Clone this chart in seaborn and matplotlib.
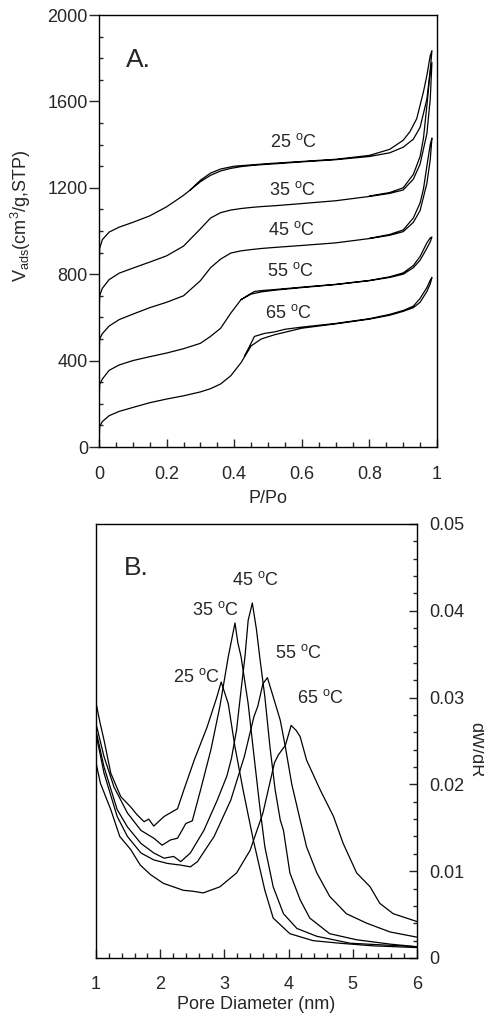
import numpy as np
import pandas as pd
import matplotlib
matplotlib.use("Agg")
import matplotlib.pyplot as plt
from matplotlib.ticker import MultipleLocator
import seaborn as sns

# ---------------- Panel A: isotherms ----------------
P_ADS = [0.0, 0.002, 0.01, 0.03, 0.06, 0.1, 0.15, 0.2, 0.25, 0.3, 0.33, 0.36, 0.39,
         0.42, 0.45, 0.48, 0.52, 0.6, 0.7, 0.8, 0.86, 0.9, 0.93, 0.95, 0.97, 0.98, 0.985]

ads_25 = [800, 920, 960, 995, 1018, 1040, 1070, 1112, 1165, 1228, 1258, 1278, 1290,
          1298, 1303, 1307, 1311, 1320, 1330, 1345, 1362, 1388, 1425, 1480, 1610, 1745, 1835]
des_p_25 = [0.985, 0.98, 0.97, 0.96, 0.94, 0.92, 0.9, 0.86, 0.8, 0.7, 0.5, 0.4, 0.36, 0.33, 0.3, 0.27]
des_25 = [1835, 1812, 1720, 1645, 1520, 1460, 1420, 1378, 1350, 1332, 1312, 1300, 1287, 1268, 1235, 1190]

ads_35 = [600, 700, 735, 775, 805, 828, 856, 885, 930, 1010, 1060, 1085, 1097,
          1104, 1109, 1113, 1117, 1127, 1140, 1160, 1174, 1190, 1240, 1310, 1450, 1610, 1780]
des_p_35 = [0.985, 0.98, 0.97, 0.96, 0.95, 0.93, 0.9, 0.86, 0.8]
des_35 = [1780, 1740, 1580, 1430, 1345, 1262, 1200, 1178, 1162]

ads_45 = [400, 500, 525, 560, 590, 615, 645, 670, 700, 770, 830, 870, 898,
          908, 914, 919, 924, 933, 945, 965, 980, 997, 1040, 1095, 1220, 1330, 1430]
des_p_45 = [0.985, 0.98, 0.97, 0.96, 0.95, 0.93, 0.9, 0.86, 0.8]
des_45 = [1430, 1400, 1300, 1195, 1130, 1060, 1005, 984, 966]

ads_55 = [200, 290, 315, 355, 380, 400, 418, 435, 455, 480, 512, 550, 620,
          682, 708, 718, 726, 738, 752, 770, 785, 800, 830, 865, 920, 950, 972]
des_p_55 = [0.985, 0.98, 0.97, 0.95, 0.93, 0.9, 0.86, 0.8, 0.7, 0.6, 0.52, 0.48, 0.46, 0.44, 0.42]
des_55 = [972, 968, 945, 882, 840, 806, 788, 771, 753, 740, 729, 724, 720, 702, 682]

ads_65 = [0, 95, 118, 145, 165, 183, 205, 222, 237, 255, 270, 292, 330,
          390, 468, 500, 520, 550, 570, 592, 610, 628, 645, 670, 720, 755, 785]
des_p_65 = [0.985, 0.98, 0.97, 0.95, 0.93, 0.9, 0.86, 0.8, 0.7, 0.6, 0.55, 0.52, 0.49, 0.46, 0.445, 0.43]
des_65 = [785, 772, 738, 688, 652, 632, 614, 594, 572, 555, 545, 533, 526, 512, 465, 420]

labels_A = ["25 $^{o}$C", "35 $^{o}$C", "45 $^{o}$C", "55 $^{o}$C", "65 $^{o}$C"]
label_pos_A = [(0.506, 1412), (0.503, 1190), (0.50, 1005), (0.497, 816), (0.491, 622)]

# ---------------- Panel B: pore size distributions ----------------
d_25 = [1.0, 1.06, 1.125, 1.23, 1.385, 1.54, 1.64, 1.75, 1.82, 1.90, 2.06, 2.27, 2.37, 2.53,
        2.73, 2.88, 2.95, 3.06, 3.165, 3.29, 3.45, 3.63, 3.76, 4.02, 4.38, 4.8, 5.32, 6.0]
w_25 = [0.0294, 0.0272, 0.0251, 0.0213, 0.0186, 0.0174, 0.0165, 0.0157, 0.0160, 0.0152, 0.0163,
        0.0172, 0.0194, 0.0228, 0.0266, 0.0300, 0.0318, 0.0293, 0.0243, 0.0194, 0.0136, 0.0078,
        0.0046, 0.0028, 0.0020, 0.0017, 0.0014, 0.0012]

d_35 = [1.0, 1.125, 1.28, 1.49, 1.70, 1.90, 2.03, 2.16, 2.27, 2.40, 2.50, 2.63, 2.79, 2.93,
        3.06, 3.165, 3.21, 3.26, 3.37, 3.45, 3.55, 3.63, 3.76, 3.92, 4.13, 4.44, 4.96, 6.0]
w_35 = [0.0270, 0.0232, 0.0197, 0.0167, 0.0147, 0.0138, 0.0130, 0.0136, 0.0138, 0.0155, 0.0158,
        0.0194, 0.0240, 0.0290, 0.0347, 0.0386, 0.0363, 0.0347, 0.0293, 0.0240, 0.0175, 0.0128,
        0.0082, 0.0051, 0.0034, 0.0025, 0.0017, 0.0013]

d_45 = [1.0, 1.125, 1.33, 1.49, 1.70, 1.90, 2.06, 2.21, 2.32, 2.47, 2.68, 2.89, 3.04, 3.11,
        3.19, 3.26, 3.32, 3.37, 3.435, 3.50, 3.55, 3.63, 3.71, 3.79, 3.87, 3.92, 4.02, 4.18,
        4.33, 4.64, 5.06, 5.58, 6.0]
w_45 = [0.0262, 0.0220, 0.0171, 0.0151, 0.0132, 0.0121, 0.0115, 0.0117, 0.0111, 0.0121, 0.0147,
        0.0182, 0.0210, 0.0230, 0.0263, 0.0309, 0.0347, 0.0389, 0.0409, 0.0378, 0.0347, 0.0301,
        0.0243, 0.0194, 0.0159, 0.0147, 0.0098, 0.0067, 0.0046, 0.0028, 0.0021, 0.0016, 0.0013]

d_55 = [1.0, 1.125, 1.33, 1.49, 1.70, 1.90, 2.11, 2.32, 2.47, 2.58, 2.84, 3.10, 3.31, 3.46,
        3.52, 3.60, 3.67, 3.76, 3.87, 3.95, 4.05, 4.18, 4.28, 4.44, 4.64, 4.90, 5.22, 5.58, 6.0]
w_55 = [0.0258, 0.0213, 0.0163, 0.0140, 0.0121, 0.0113, 0.0109, 0.0107, 0.0105, 0.0111, 0.0140,
        0.0182, 0.0232, 0.0278, 0.0290, 0.0316, 0.0323, 0.0301, 0.0274, 0.0243, 0.0200, 0.0159,
        0.0128, 0.0098, 0.0071, 0.0051, 0.0040, 0.0030, 0.0024]

d_65 = [1.0, 1.07, 1.23, 1.37, 1.54, 1.69, 1.85, 2.05, 2.36, 2.50, 2.67, 2.93, 3.19, 3.40,
        3.60, 3.78, 3.84, 3.95, 4.04, 4.12, 4.18, 4.28, 4.49, 4.70, 4.85, 5.06, 5.27, 5.42,
        5.63, 6.0]
w_65 = [0.0225, 0.0201, 0.0171, 0.0140, 0.0125, 0.0107, 0.0096, 0.0086, 0.0078, 0.0077, 0.0075,
        0.0082, 0.0098, 0.0124, 0.0167, 0.0225, 0.0234, 0.0245, 0.0268, 0.0262, 0.0255, 0.0228,
        0.0194, 0.0163, 0.0132, 0.0098, 0.0082, 0.0063, 0.0051, 0.0042]

labels_B = ["25 $^{o}$C", "35 $^{o}$C", "45 $^{o}$C", "55 $^{o}$C", "65 $^{o}$C"]
label_pos_B = [(2.195, 0.0324), (2.495, 0.0401), (3.12, 0.0435), (3.79, 0.0351), (4.126, 0.0300)]

# ---------------- Styling ----------------
sns.set_style("ticks")
plt.rcParams["font.family"] = ["Liberation Sans", "DejaVu Sans"]
plt.rcParams["mathtext.default"] = "regular"
plt.rcParams["axes.linewidth"] = 1.0

FS = 13
LW = 0.9

fig = plt.figure(figsize=(4.84, 10.17), dpi=100)
axA = fig.add_axes([99 / 484, 1 - 447 / 1017, (437 - 99) / 484, (447 - 15) / 1017])
axB = fig.add_axes([96 / 484, 1 - 958 / 1017, (417 - 96) / 484, (958 - 524) / 1017])

# Panel A loops: adsorption then desorption
iso = [(ads_25, des_p_25, des_25), (ads_35, des_p_35, des_35), (ads_45, des_p_45, des_45),
       (ads_55, des_p_55, des_55), (ads_65, des_p_65, des_65)]
for ads, dp, dv in iso:
    df = pd.DataFrame({"P": list(P_ADS) + list(dp), "V": list(ads) + list(dv)})
    sns.lineplot(data=df, x="P", y="V", sort=False, estimator=None, color="black",
                 linewidth=LW, ax=axA)

for (x, y), t in zip(label_pos_A, labels_A):
    axA.text(x, y, t, fontsize=FS, ha="left", va="center")
axA.text(0.08, 1790, "A.", fontsize=19, ha="left", va="center")

axA.set_xlim(0, 1)
axA.set_ylim(0, 2000)
axA.xaxis.set_major_locator(MultipleLocator(0.2))
axA.xaxis.set_minor_locator(MultipleLocator(0.05))
axA.yaxis.set_major_locator(MultipleLocator(400))
axA.yaxis.set_minor_locator(MultipleLocator(100))
axA.set_xticks([0, 0.2, 0.4, 0.6, 0.8, 1.0])
axA.set_xticklabels(["0", "0.2", "0.4", "0.6", "0.8", "1"])
axA.tick_params(axis="x", which="major", direction="in", length=6, width=1, pad=14, labelsize=FS)
axA.tick_params(axis="x", which="minor", direction="in", length=3.5, width=1)
axA.tick_params(axis="y", which="major", direction="out", length=7, width=1, pad=1, labelsize=FS)
axA.tick_params(axis="y", which="minor", direction="in", length=3, width=1)
axA.set_xlabel("P/Po", fontsize=FS, labelpad=5)
axA.set_ylabel("V$_{ads}$(cm$^{3}$/g,STP)", fontsize=FS)
axA.yaxis.set_label_coords(-0.195, 0.535)
for s in axA.spines.values():
    s.set_visible(True)
    s.set_color("black")

# Panel B
psd = [(d_25, w_25), (d_35, w_35), (d_45, w_45), (d_55, w_55), (d_65, w_65)]
for d, w in psd:
    df = pd.DataFrame({"D": d, "W": w})
    sns.lineplot(data=df, x="D", y="W", sort=False, estimator=None, color="black",
                 linewidth=LW, ax=axB)

for (x, y), t in zip(label_pos_B, labels_B):
    axB.text(x, y, t, fontsize=FS, ha="left", va="center")
axB.text(1.436, 0.0449, "B.", fontsize=19, ha="left", va="center")

axB.set_xlim(1, 6)
axB.set_ylim(0, 0.05)
axB.xaxis.set_major_locator(MultipleLocator(1))
axB.xaxis.set_minor_locator(MultipleLocator(0.2))
axB.yaxis.set_major_locator(MultipleLocator(0.01))
axB.yaxis.set_minor_locator(MultipleLocator(0.002))
axB.set_yticks([0, 0.01, 0.02, 0.03, 0.04, 0.05])
axB.set_yticklabels(["0", "0.01", "0.02", "0.03", "0.04", "0.05"])
axB.yaxis.tick_right()
axB.tick_params(axis="x", which="major", direction="in", length=6.5, width=1, pad=13, labelsize=FS)
axB.tick_params(axis="x", which="minor", direction="in", length=3.5, width=1)
axB.tick_params(axis="y", which="major", direction="in", length=6, width=1, pad=9,
                labelsize=FS, left=False, right=True, labelleft=False, labelright=True)
axB.tick_params(axis="y", which="minor", direction="in", length=3, width=1, left=False, right=True)
axB.set_xlabel("Pore Diameter (nm)", fontsize=FS, labelpad=2)
axB.yaxis.set_label_position("right")
axB.set_ylabel("dW/dR", fontsize=FS, rotation=270)
axB.yaxis.label.set_verticalalignment("bottom")
axB.yaxis.set_label_coords(1.158, 0.48)
for s in axB.spines.values():
    s.set_visible(True)
    s.set_color("black")

fig.savefig("out.png", dpi=100)
